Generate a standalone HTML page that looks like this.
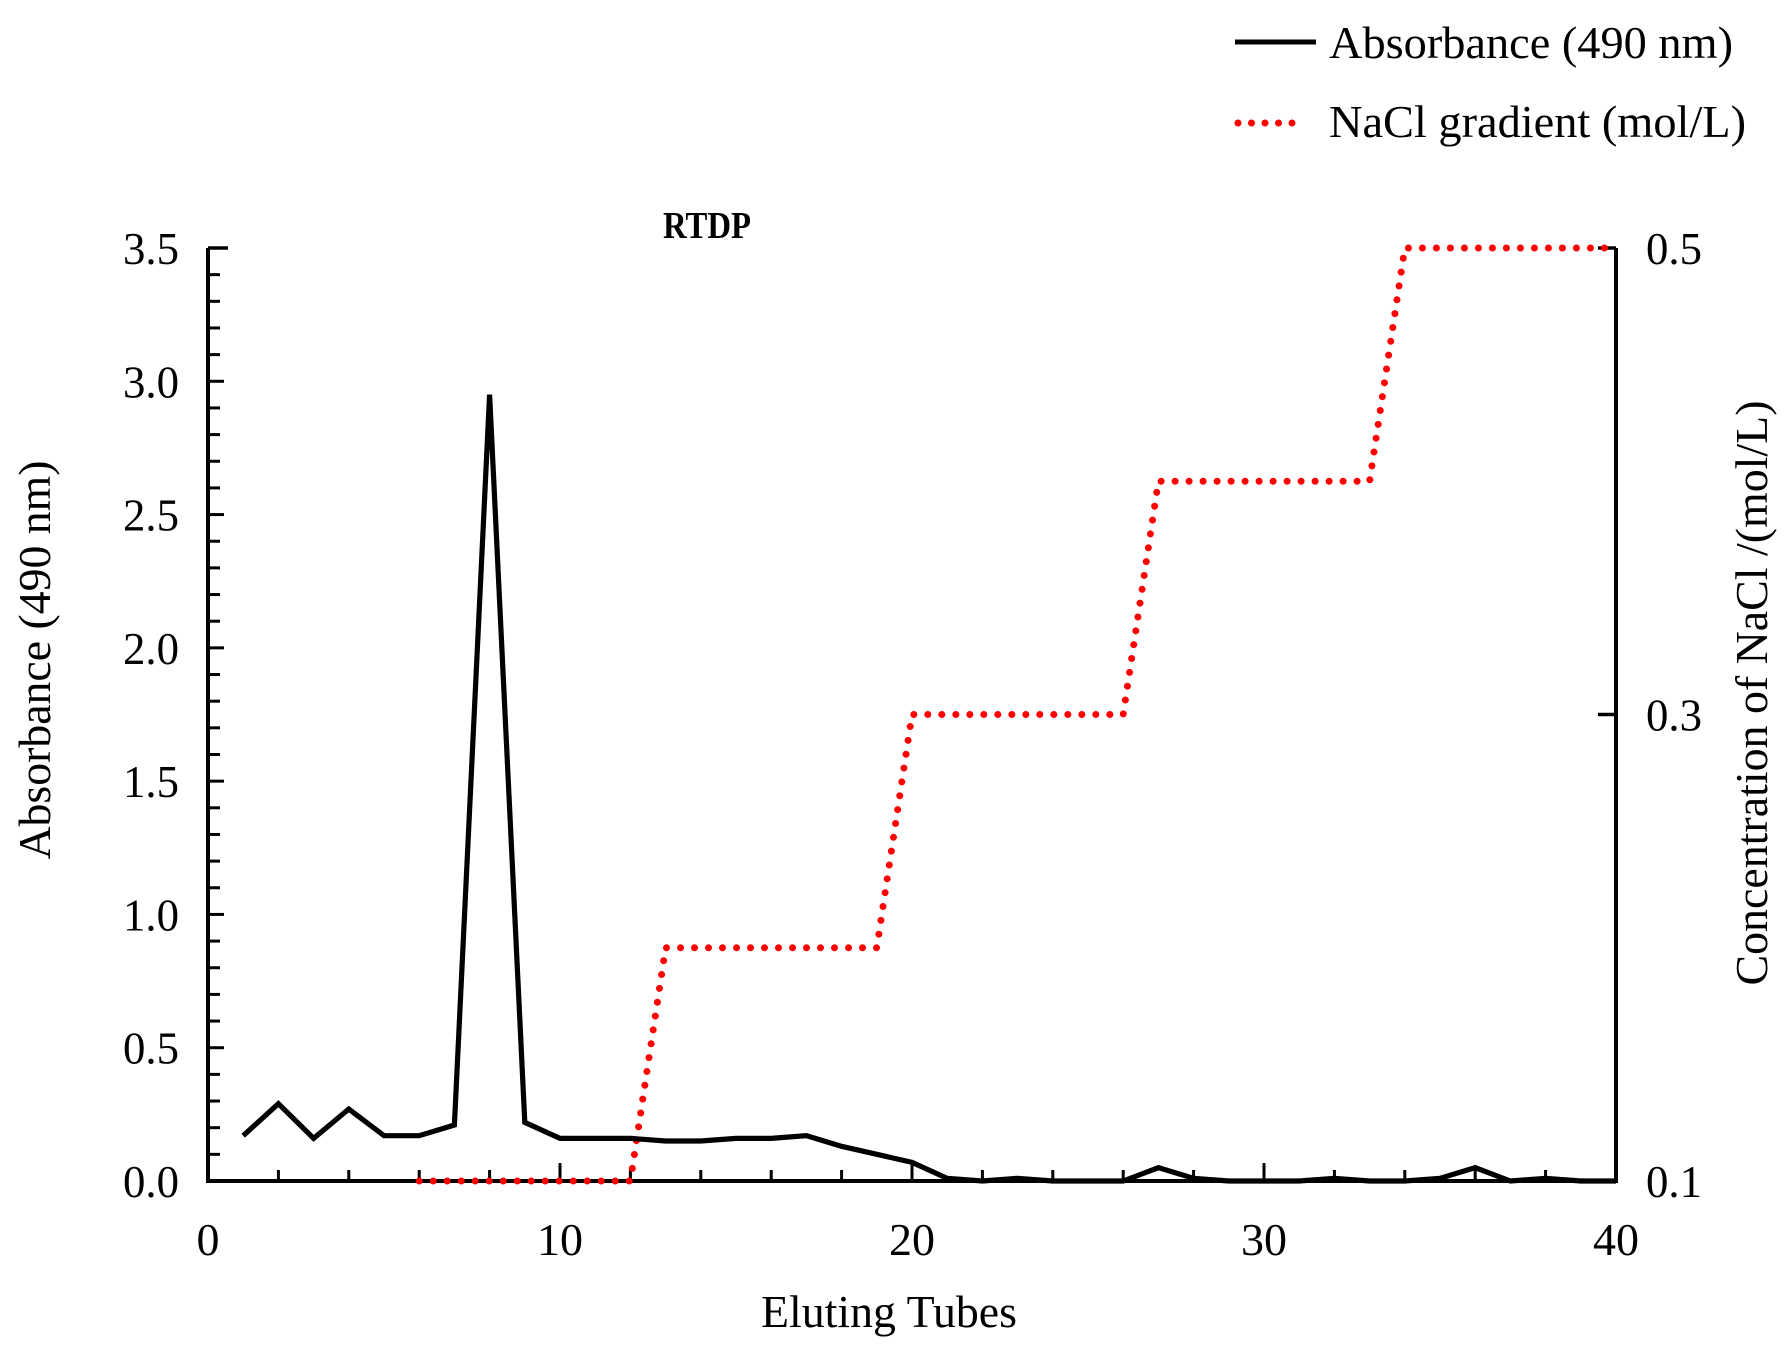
<!DOCTYPE html>
<html><head><meta charset="utf-8"><style>
html,body{margin:0;padding:0;background:#fff;}
svg{display:block;font-family:"Liberation Serif",serif;}
</style></head><body>
<svg id="chart" width="1792" height="1350" viewBox="0 0 1792 1350" xmlns="http://www.w3.org/2000/svg">
<g id="legend">
  <line x1="1235" y1="42" x2="1316" y2="42" stroke="#000" stroke-width="5"/>
  <text x="1329" y="58" font-size="46" textLength="404" lengthAdjust="spacingAndGlyphs">Absorbance (490 nm)</text>
  <line x1="1238" y1="123" x2="1305" y2="123" stroke="#f00" stroke-width="7" stroke-linecap="round" stroke-dasharray="0 13.5"/>
  <text x="1329" y="137" font-size="46" textLength="417" lengthAdjust="spacingAndGlyphs">NaCl gradient (mol/L)</text>
</g>
<text x="707" y="238" font-size="38" font-weight="bold" text-anchor="middle" textLength="88" lengthAdjust="spacingAndGlyphs">RTDP</text>
<g id="axes"></g>
<g id="series"></g>
<text x="889" y="1327" font-size="46" text-anchor="middle" textLength="256" lengthAdjust="spacingAndGlyphs">Eluting Tubes</text>
<text transform="translate(50,660) rotate(-90)" font-size="46" text-anchor="middle" textLength="399" lengthAdjust="spacingAndGlyphs">Absorbance (490 nm)</text>
<text transform="translate(1767,693) rotate(-90)" font-size="46" text-anchor="middle" textLength="585" lengthAdjust="spacingAndGlyphs">Concentration of NaCl /(mol/L)</text>
</svg>
<script>
const tubes = [1,2,3,4,5,6,7,8,9,10,11,12,13,14,15,16,17,18,19,20,21,22,23,24,25,26,27,28,29,30,31,32,33,34,35,36,37,38,39,40];
const absorbance = [0.17,0.29,0.16,0.27,0.17,0.17,0.21,2.95,0.22,0.16,0.16,0.16,0.15,0.15,0.16,0.16,0.17,0.13,0.10,0.07,0.01,0.00,0.01,0.00,0.00,0.00,0.05,0.01,0.00,0.00,0.00,0.01,0.00,0.00,0.01,0.05,0.00,0.01,0.00,0.00];
const naclTubes = [6,12,13,19,20,26,27,33,34,40];
const naclConc = [0.1,0.1,0.2,0.2,0.3,0.3,0.4,0.4,0.5,0.5];
const xTickLabels = ["0","10","20","30","40"];
const yTickLabels = ["0.0","0.5","1.0","1.5","2.0","2.5","3.0","3.5"];
const y2TickLabels = ["0.1","0.3","0.5"];

const X0=208, X1=1616, Y0=1181, Y1=248;
const xs = v => X0 + (v-0)/(40-0)*(X1-X0);
const ys = v => Y0 - (v-0)/(3.5-0)*(Y0-Y1);
const y2s = v => Y0 - (v-0.1)/(0.5-0.1)*(Y0-Y1);
const NS="http://www.w3.org/2000/svg";
const axes=document.getElementById('axes'), series=document.getElementById('series');
function mk(tag, attrs, parent){const e=document.createElementNS(NS,tag);for(const k in attrs)e.setAttribute(k,attrs[k]);parent.appendChild(e);return e;}

let e;
e=mk('path',{d:`M${X0},${Y1} V${Y0} H${X1} V${Y1}`,fill:'none',stroke:'#000','stroke-width':4},axes);


e=mk('line',{x1:X0,y1:Y1,x2:X0+20,y2:Y1,stroke:'#000','stroke-width':3.5},axes);


for(let v=2; v<40; v+=2){
  const major = v%10===0;
  e=mk('line',{x1:xs(v),y1:Y0,x2:xs(v),y2:Y0-(major?18:11),stroke:'#000','stroke-width':3},axes);
  
  
}
xTickLabels.forEach(t=>{
  e=mk('text',{x:xs(+t),y:1255,'font-size':46,'text-anchor':'middle'},axes);
  e.textContent=t;
  
  
});
for(let i=1;i<35;i++){
  const v=i/10;
  e=mk('line',{x1:X0,y1:ys(v),x2:X0+(i%5===0?16:12),y2:ys(v),stroke:'#000','stroke-width':3},axes);
  
  
}
yTickLabels.forEach(t=>{
  e=mk('text',{x:179,y:ys(+t)+16,'font-size':46,'text-anchor':'end',textLength:56,lengthAdjust:'spacingAndGlyphs'},axes);
  e.textContent=t;
  
  
});
y2TickLabels.forEach(t=>{
  e=mk('line',{x1:X1,y1:y2s(+t),x2:X1-18,y2:y2s(+t),stroke:'#000','stroke-width':3.5},axes);
  
  
  e=mk('text',{x:1646,y:y2s(+t)+16,'font-size':46,textLength:56,lengthAdjust:'spacingAndGlyphs'},axes);
  e.textContent=t;
  
  
});
e=mk('polyline',{points:naclTubes.map((t,i)=>xs(t)+','+y2s(naclConc[i])).join(' '),fill:'none',stroke:'#f00','stroke-width':7,'stroke-linecap':'round','stroke-dasharray':'0 14'},series);


e=mk('polyline',{points:tubes.map((t,i)=>xs(t)+','+ys(absorbance[i])).join(' '),fill:'none',stroke:'#000','stroke-width':5.2,'stroke-linejoin':'miter'},series);


</script>
</body></html>
